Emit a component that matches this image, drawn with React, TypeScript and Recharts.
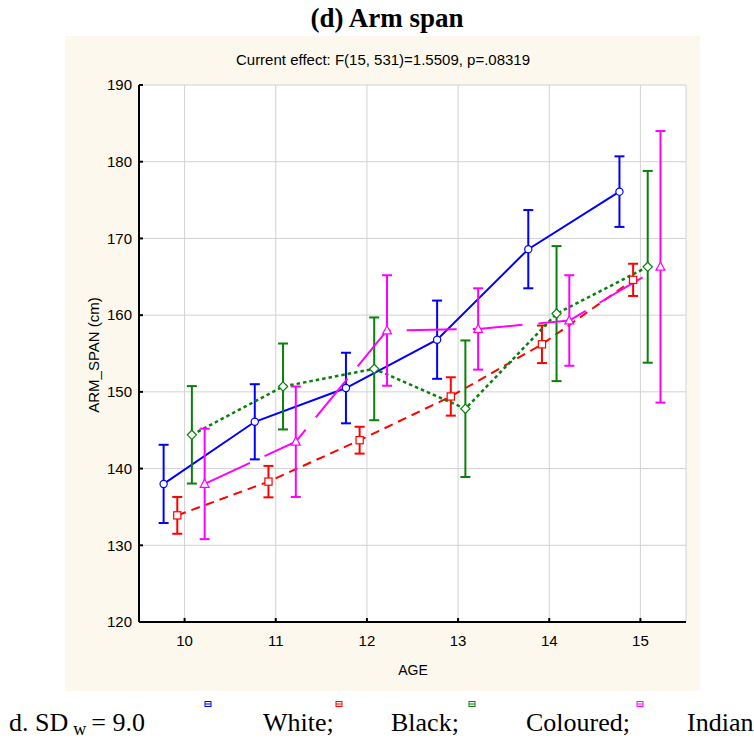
import { CartesianGrid, ComposedChart, ErrorBar, Line, XAxis, YAxis } from "recharts";

const ages = [10, 11, 12, 13, 14, 15];
const ageTicks = [10, 11, 12, 13, 14, 15];
const spanTicks = [120, 130, 140, 150, 160, 170, 180, 190];

const whiteMean = [138.0, 146.1, 150.5, 156.8, 168.6, 176.1];
const whiteErr = [5.1, 4.9, 4.6, 5.1, 5.1, 4.6];
const blackMean = [133.9, 138.3, 143.7, 149.4, 156.2, 164.6];
const blackErr = [2.4, 2.05, 1.75, 2.5, 2.45, 2.1];
const colouredMean = [144.4, 150.7, 153.0, 147.8, 160.2, 166.3];
const colouredErr = [6.35, 5.6, 6.7, 8.9, 8.8, 12.5];
const indianMean = [138.0, 143.5, 158.0, 158.2, 159.3, 166.3];
const indianErr = [7.2, 7.2, 7.2, 5.3, 5.9, 17.7];

// horizontal jitter so the groups don't sit on top of each other
const shift = { white: -0.23, black: -0.08, coloured: 0.08, indian: 0.22 };

const rows = (means: number[], errs: number[], dx: number) =>
  ages.map((a, i) => ({ x: a + dx, y: means[i], err: errs[i] }));

const series = [
  { key: "white", data: rows(whiteMean, whiteErr, shift.white), color: "#0000ff", dash: undefined, width: 2, shape: "circle" },
  { key: "black", data: rows(blackMean, blackErr, shift.black), color: "#ff0000", dash: "9 6", width: 2, shape: "square" },
  { key: "coloured", data: rows(colouredMean, colouredErr, shift.coloured), color: "#0a800a", dash: "3.5 3", width: 2.5, shape: "diamond" },
  { key: "indian", data: rows(indianMean, indianErr, shift.indian), color: "#ff00ff", dash: "50 16", width: 2, shape: "triangle" },
];

const font = "Arial, 'Liberation Sans', sans-serif";
const serif = "'Times New Roman', 'Liberation Serif', serif";

function Marker({ cx, cy, shape, color }: { cx?: number; cy?: number; shape: string; color: string }) {
  if (cx == null || cy == null) return null;
  const p = { fill: "#fff", stroke: color, strokeWidth: 1.2 };
  if (shape === "circle") return <circle cx={cx} cy={cy} r={3.6} {...p} />;
  if (shape === "square") return <rect x={cx - 3.6} y={cy - 3.6} width={7.2} height={7.2} {...p} />;
  if (shape === "diamond")
    return <polygon points={`${cx},${cy - 4.6} ${cx + 4.6},${cy} ${cx},${cy + 4.6} ${cx - 4.6},${cy}`} {...p} />;
  return <polygon points={`${cx},${cy - 4.8} ${cx + 4.4},${cy + 3.4} ${cx - 4.4},${cy + 3.4}`} {...p} />;
}

function LegendIcon({ x, color }: { x: number; color: string }) {
  return (
    <g>
      <rect x={x - 3} y={701.5} width={6} height={5} fill="#fff" stroke={color} strokeWidth={1} />
      <line x1={x - 3} x2={x + 3} y1={704} y2={704} stroke={color} strokeWidth={1} />
    </g>
  );
}

export default function App() {
  return (
    <div style={{ position: "absolute", left: 0, top: 0, width: 754, height: 738, background: "#fff" }}>
      <div style={{ position: "absolute", left: 65, top: 36, width: 635, height: 655, background: "#fdf8ed" }} />
      <div style={{ position: "absolute", left: 0, top: 0 }}>
        <ComposedChart width={754} height={738} margin={{ top: 85, right: 68, bottom: 86, left: 89 }}>
          <CartesianGrid stroke="#d2d2d2" strokeWidth={1} fill="#ffffff" />
          <XAxis
            type="number"
            dataKey="x"
            domain={[9.5, 15.5]}
            ticks={ageTicks}
            allowDataOverflow
            height={30}
            axisLine={{ stroke: "#000", strokeWidth: 2 }}
            tickLine={{ stroke: "#000", strokeWidth: 2 }}
            tickSize={-4}
            tickMargin={17}
            tick={{ fill: "#000", fontSize: 15, fontFamily: font }}
          />
          <XAxis
            xAxisId="top"
            orientation="top"
            type="number"
            domain={[9.5, 15.5]}
            ticks={ageTicks}
            allowDataOverflow
            height={0}
            axisLine={{ stroke: "#000", strokeWidth: 2 }}
            tickLine={{ stroke: "#000", strokeWidth: 2 }}
            tickSize={-4}
            tick={false}
          />
          <YAxis
            type="number"
            domain={[120, 190]}
            ticks={spanTicks}
            allowDataOverflow
            width={50}
            axisLine={{ stroke: "#000", strokeWidth: 2 }}
            tickLine={{ stroke: "#000", strokeWidth: 2 }}
            tickSize={-4}
            tickMargin={11}
            tick={{ fill: "#000", fontSize: 15, fontFamily: font }}
          />
          <YAxis
            yAxisId="right"
            orientation="right"
            type="number"
            domain={[120, 190]}
            ticks={spanTicks}
            allowDataOverflow
            width={0}
            axisLine={{ stroke: "#000", strokeWidth: 2 }}
            tickLine={{ stroke: "#000", strokeWidth: 2 }}
            tickSize={-4}
            tick={false}
          />
          {series.map((s) => (
            <Line
              key={s.key}
              data={s.data}
              dataKey="y"
              type="linear"
              stroke={s.color}
              strokeWidth={s.width}
              strokeDasharray={s.dash}
              isAnimationActive={false}
              activeDot={false}
              dot={(props: any) => (
                <Marker key={`${s.key}-${props.index}`} cx={props.cx} cy={props.cy} shape={s.shape} color={s.color} />
              )}
            >
              <ErrorBar dataKey="err" direction="y" width={5} stroke={s.color} strokeWidth={2} isAnimationActive={false} />
            </Line>
          ))}
        </ComposedChart>
      </div>
      <svg width={754} height={738} style={{ position: "absolute", left: 0, top: 0, pointerEvents: "none" }}>
        <text x={387} y={27} textAnchor="middle" fontFamily={serif} fontWeight="bold" fontSize={27}>
          (d) Arm span
        </text>
        <text x={383} y={65} textAnchor="middle" fontFamily={font} fontSize={15}>
          Current effect: F(15, 531)=1.5509, p=.08319
        </text>
        <text x={413} y={675} textAnchor="middle" fontFamily={font} fontSize={14}>
          AGE
        </text>
        <text
          x={99}
          y={355}
          textAnchor="middle"
          fontFamily={font}
          fontSize={15}
          transform="rotate(-90 99 355)"
        >
          ARM_SPAN (cm)
        </text>
        <text x={9} y={731} fontFamily={serif} fontSize={26}>
          d. SD
          <tspan fontSize={18} dy={4} dx={5}>w</tspan>
          <tspan dy={-4} dx={5}>= 9.0</tspan>
        </text>
        <LegendIcon x={208} color="#0000ff" />
        <LegendIcon x={339} color="#ff0000" />
        <LegendIcon x={472} color="#0a800a" />
        <LegendIcon x={640} color="#ff00ff" />
        <text x={263} y={731} fontFamily={serif} fontSize={26}>White;</text>
        <text x={391} y={731} fontFamily={serif} fontSize={26}>Black;</text>
        <text x={526} y={731} fontFamily={serif} fontSize={26}>Coloured;</text>
        <text x={687} y={731} fontFamily={serif} fontSize={26}>Indian</text>
      </svg>
    </div>
  );
}
